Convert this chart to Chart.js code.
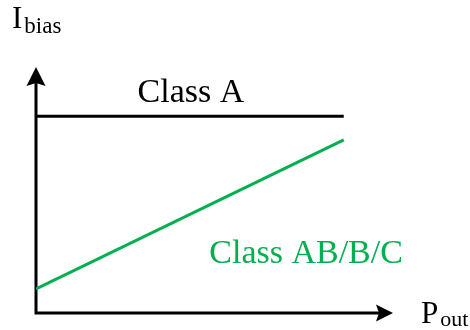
<!DOCTYPE html>
<html><head><meta charset="utf-8">
<script src="https://cdn.jsdelivr.net/npm/chart.js@4/dist/chart.umd.min.js"></script>
<style>html,body{margin:0;padding:0;background:#fff}#c{display:block}</style>
</head><body>
<canvas id="c" width="470" height="330"></canvas>
<script>
const xValues = [0, 10];
const classA = [10, 10];
const classABC = [1.22, 8.8];
const seriesNames = ['Class A', 'Class AB/B/C'];
const yTitle = ['I', 'bias'];
const xTitle = ['P', 'out'];
const X_MAX = 11.6, Y_MAX = 12.5;
const GREEN = '#00b050';

const decor = {
  id: 'decor',
  beforeDatasetsDraw(chart) {
    const {ctx, chartArea: a} = chart;
    ctx.save();
    ctx.strokeStyle = '#000'; ctx.fillStyle = '#000'; ctx.lineWidth = 3;
    ctx.beginPath();
    ctx.moveTo(a.left, a.top + 14); ctx.lineTo(a.left, a.bottom);
    ctx.lineTo(a.right - 14, a.bottom);
    ctx.stroke();
    // arrows
    ctx.beginPath();
    ctx.moveTo(a.left, a.top); ctx.lineTo(a.left - 9.5, a.top + 19); ctx.lineTo(a.left, a.top + 16); ctx.lineTo(a.left + 9.5, a.top + 19); ctx.closePath(); ctx.fill();
    ctx.beginPath();
    ctx.moveTo(a.right, a.bottom); ctx.lineTo(a.right - 17, a.bottom - 8.5); ctx.lineTo(a.right - 14, a.bottom); ctx.lineTo(a.right - 17, a.bottom + 8.5); ctx.closePath(); ctx.fill();
    ctx.restore();
  },
  afterDatasetsDraw(chart) {
    const {ctx, chartArea: a, scales: {x, y}} = chart;
    ctx.save();
    ctx.textBaseline = 'alphabetic'; ctx.textAlign = 'left';
    ctx.fillStyle = '#000';
    ctx.font = '34px "Liberation Serif"';
    ctx.fillText(seriesNames[0], x.getPixelForValue(3.3), y.getPixelForValue(classA[0]) - 14);
    ctx.fillStyle = GREEN;
    ctx.fillText(seriesNames[1], x.getPixelForValue(5.63), 263);
    ctx.fillStyle = '#000';
    ctx.font = '31px "Liberation Serif"';
    ctx.fillText(yTitle[0], 12, 28);
    let w = ctx.measureText(yTitle[0]).width;
    ctx.font = '23px "Liberation Serif"';
    ctx.fillText(yTitle[1], 12 + w + 2, 33);
    ctx.font = '31px "Liberation Serif"';
    ctx.fillText(xTitle[0], 421, 323);
    w = ctx.measureText(xTitle[0]).width;
    ctx.font = '22px "Liberation Serif"';
    ctx.fillText(xTitle[1], 421 + w + 2, 326);
    ctx.restore();
  }
};

new Chart(document.getElementById('c'), {
  type: 'line',
  data: {
    datasets: [
      {label: seriesNames[0], data: xValues.map((v, i) => ({x: v, y: classA[i]})), borderColor: '#000', borderWidth: 3, pointRadius: 0, fill: false},
      {label: seriesNames[1], data: xValues.map((v, i) => ({x: v, y: classABC[i]})), borderColor: GREEN, borderWidth: 3, pointRadius: 0, fill: false}
    ]
  },
  options: {
    responsive: false, animation: false,
    layout: {padding: {left: 36, right: 77, top: 67, bottom: 17}},
    scales: {
      x: {type: 'linear', min: 0, max: X_MAX, display: false},
      y: {type: 'linear', min: 0, max: Y_MAX, display: false}
    },
    plugins: {legend: {display: false}, tooltip: {enabled: false}},
    elements: {line: {tension: 0}}
  },
  plugins: [decor]
});
</script>
</body></html>
